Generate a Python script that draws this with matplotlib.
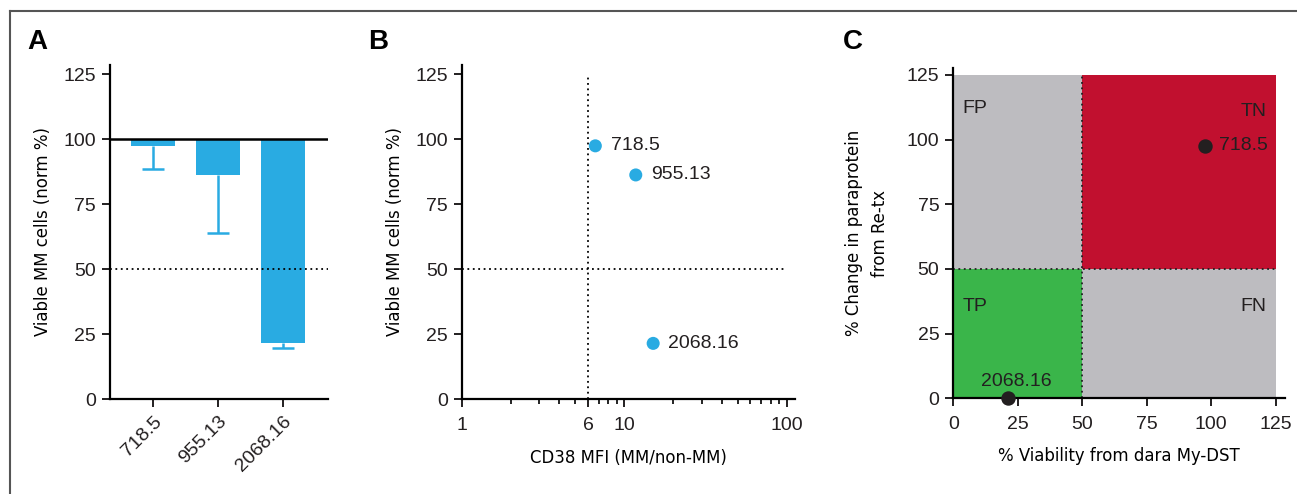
import matplotlib
matplotlib.use('Agg')
import matplotlib.pyplot as plt
from matplotlib.lines import Line2D
from matplotlib.ticker import FixedLocator, NullFormatter
import numpy as np

# Data
samples = ['718.5', '955.13', '2068.16']
viable_pct = [97.4, 86.2, 21.4]          # panel A bar ends (norm %)
viable_low = [88.3, 64.0, 19.5]          # lower end of error bar
cd38_mfi = [6.65, 11.8, 15.1]            # panel B x values
c_samples = ['718.5', '2068.16']
c_viability = [97.6, 21.1]               # panel C x
c_paraprotein = [97.7, 0.0]              # panel C y

blue = '#29abe2'
red = '#c1102f'
green = '#3ab54a'
grey = '#bdbcc0'

plt.rcParams['font.family'] = ['Liberation Sans', 'DejaVu Sans']
narrow = dict(family=['DejaVu Sans'], fontstretch='condensed')
tick_fs = 14
lab_fs = 13.2

fig = plt.figure(figsize=(12.97, 4.94), dpi=100)

# frame lines (left and top)
fig.add_artist(Line2D([10/1297, 10/1297], [0, 1 - 11/494], color='#555555', lw=1.5))
fig.add_artist(Line2D([10/1297, 1], [1 - 11/494, 1 - 11/494], color='#555555', lw=1.5))


def style(ax):
    for s in ['top', 'right']:
        ax.spines[s].set_visible(False)
    for s in ['left', 'bottom']:
        ax.spines[s].set_linewidth(1.6)
    ax.tick_params(direction='out', length=6, width=1.4, labelsize=tick_fs, pad=4,
                   colors='#231f20')


# ---- Panel A
axA = fig.add_axes([110/1297, 95/494, 218/1297, 334/494])
style(axA)
x = np.arange(len(samples))
heights = [v - 100 for v in viable_pct]
axA.bar(x, heights, bottom=100, width=0.68, color=blue)
axA.vlines(x, viable_low, viable_pct, color=blue, lw=1.8)
axA.hlines(viable_low, x - 0.17, x + 0.17, color=blue, lw=1.8)
axA.axhline(100, color='black', lw=1.8, zorder=3)
axA.axhline(50, color='black', lw=1.3, ls=(0, (1, 2)), zorder=1)
axA.set_xlim(-0.66, 2.69)
axA.set_ylim(0, 128.5)
axA.set_yticks([0, 25, 50, 75, 100, 125])
axA.set_xticks(x)
axA.set_xticklabels(samples, rotation=45, ha='right', rotation_mode='anchor')
axA.set_ylabel('Viable MM cells (norm %)', fontsize=lab_fs, labelpad=8, **narrow)
fig.text(27/1297, 1 - 42/494, 'A', fontsize=20, fontweight='bold', va='center')

# ---- Panel B
axB = fig.add_axes([461.7/1297, 95/494, 333.3/1297, 334/494])
style(axB)
axB.set_xscale('log')
axB.set_xlim(1, 10**((795 - 461.7)/162.4))
axB.set_ylim(0, 128.5)
axB.set_yticks([0, 25, 50, 75, 100, 125])
axB.xaxis.set_major_locator(FixedLocator([1, 6, 10, 100]))
axB.set_xticklabels(['1', '6', '10', '100'])
minors = [m * d for d in [1, 10] for m in range(2, 10) if m * d != 6]
axB.xaxis.set_minor_locator(FixedLocator(minors))
axB.xaxis.set_minor_formatter(NullFormatter())
axB.tick_params(axis='x', which='minor', length=3.5, width=1.2, direction='out')
axB.tick_params(axis='x', which='major', pad=7)
axB.plot([6, 6], [0, 125], color='black', lw=1.3, ls=(0, (1, 2)))
axB.plot([1, 100], [50, 50], color='black', lw=1.3, ls=(0, (1, 2)))
axB.scatter(cd38_mfi, viable_pct, s=88, color=blue, zorder=4, edgecolors='none')
for xv, yv, lab in zip(cd38_mfi, viable_pct, samples):
    axB.annotate(lab, (xv, yv), xytext=(11, 0), textcoords='offset points',
                 va='center', ha='left', fontsize=tick_fs, color='#231f20')
axB.set_xlabel('CD38 MFI (MM/non-MM)', fontsize=lab_fs, labelpad=11, **narrow)
axB.set_ylabel('Viable MM cells (norm %)', fontsize=lab_fs, labelpad=8, **narrow)
fig.text(368/1297, 1 - 42/494, 'B', fontsize=20, fontweight='bold', va='center')

# ---- Panel C
axC = fig.add_axes([953.3/1297, 95.7/494, 331.7/1297, 330.3/494])
style(axC)
axC.tick_params(axis='x', pad=7)
axC.set_xlim(0, 128.6)
axC.set_ylim(0, 127.7)
axC.add_patch(plt.Rectangle((0, 50), 50, 75, color=grey, lw=0, zorder=0))
axC.add_patch(plt.Rectangle((50, 50), 75, 75, color=red, lw=0, zorder=0))
axC.add_patch(plt.Rectangle((0, 0), 50, 50, color=green, lw=0, zorder=0))
axC.add_patch(plt.Rectangle((50, 0), 75, 50, color=grey, lw=0, zorder=0))
axC.plot([50, 50], [0, 125], color='#222222', lw=1.3, ls=(0, (1, 2)))
axC.plot([0, 125], [50, 50], color='#222222', lw=1.3, ls=(0, (1, 2)))
ticks = [0, 25, 50, 75, 100, 125]
axC.set_xticks(ticks)
axC.set_yticks(ticks)
q_fs = 14
axC.text(3.5, 112, 'FP', fontsize=q_fs, va='center', ha='left', color='#231f20')
axC.text(121.5, 111, 'TN', fontsize=q_fs, va='center', ha='right', color='#231f20')
axC.text(3.5, 35.5, 'TP', fontsize=q_fs, va='center', ha='left', color='#231f20')
axC.text(121.5, 35.5, 'FN', fontsize=q_fs, va='center', ha='right', color='#231f20')
axC.scatter(c_viability, c_paraprotein, s=88, color='#231f20', zorder=5, clip_on=False)
axC.annotate(c_samples[0], (c_viability[0], c_paraprotein[0]), xytext=(10, 0),
             textcoords='offset points', va='center', ha='left', fontsize=tick_fs,
             color='#231f20')
axC.annotate(c_samples[1], (c_viability[1], c_paraprotein[1]), xytext=(6, 6),
             textcoords='offset points', va='bottom', ha='center', fontsize=tick_fs,
             color='#231f20')
axC.set_xlabel('% Viability from dara My-DST', fontsize=lab_fs, labelpad=10, **narrow)
axC.set_ylabel('% Change in paraprotein\nfrom Re-tx', fontsize=lab_fs,
               labelpad=13, linespacing=1.55, **narrow)
fig.text(843/1297, 1 - 42/494, 'C', fontsize=20, fontweight='bold', va='center')

fig.savefig('out.png', dpi=100)
